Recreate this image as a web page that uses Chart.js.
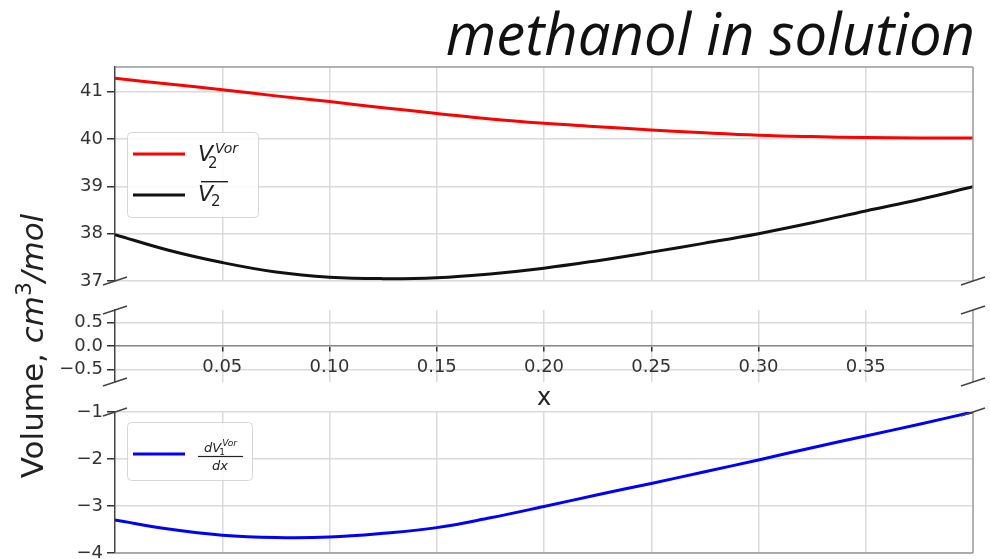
<!DOCTYPE html>
<html>
<head>
<meta charset="utf-8">
<title>methanol in solution</title>
<script src="https://cdn.jsdelivr.net/npm/chart.js@4.4.0/dist/chart.umd.min.js"></script>
<style>
  html, body { margin: 0; padding: 0; background: #fff; }
  #wrap { position: relative; width: 990px; height: 559px; overflow: hidden; }
  #wrap canvas { position: absolute; left: 0; top: 0; }
</style>
</head>
<body>
<div id="wrap">
  <canvas id="topChart" width="990" height="559"></canvas>
  <canvas id="midChart" width="990" height="559"></canvas>
  <canvas id="botChart" width="990" height="559"></canvas>
</div>
<script>
// Values (x = mole fraction)
const xValues = [0, 0.025, 0.05, 0.075, 0.1, 0.125, 0.15, 0.175, 0.2, 0.225, 0.25, 0.275, 0.3, 0.325, 0.35, 0.375, 0.4];
const vorValues = [41.28, 41.16, 41.04, 40.91, 40.79, 40.66, 40.54, 40.42, 40.33, 40.26, 40.19, 40.13, 40.08, 40.05, 40.03, 40.02, 40.02];
const barValues = [37.98, 37.65, 37.39, 37.19, 37.08, 37.05, 37.07, 37.15, 37.27, 37.43, 37.61, 37.80, 38.00, 38.23, 38.48, 38.72, 38.99];
const derivValues = [-3.30, -3.49, -3.62, -3.67, -3.66, -3.58, -3.46, -3.25, -3.01, -2.76, -2.52, -2.27, -2.02, -1.76, -1.51, -1.26, -1.00];

// Axes
const xRange = [0, 0.4];
const xTicks = [0.05, 0.1, 0.15, 0.2, 0.25, 0.3, 0.35];
const topRange = [37, 41.52];
const topTicks = [37, 38, 39, 40, 41];
const midRange = [-0.77, 0.77];
const midTicks = [-0.5, 0, 0.5];
const botRange = [-4, -1];
const botTicks = [-4, -3, -2, -1];

// Texts
const chartTitle = 'methanol in solution';
const xTitle = 'x';

const FONT = 'DejaVu Sans';
const GRID = '#dadada';
const INK = '#333';

Chart.defaults.font.family = FONT;
Chart.defaults.animation = false;

function minus(s) {
    return s.replace('-', '\u2212');
}

function lineDataset(label, values, color) {
    return {
        label: label,
        data: xValues.map((x, i) => ({ x: x, y: values[i] })),
        borderColor: color,
        borderWidth: 3,
        pointRadius: 0,
        tension: 0.4,
        fill: false
    };
}

function xScale(withLabels) {
    const s = {
        type: 'linear',
        min: xRange[0],
        max: xRange[1],
        afterBuildTicks: (scale) => { scale.ticks = xTicks.map(v => ({ value: v })); },
        grid: { color: GRID, lineWidth: 1.5, drawTicks: false },
        border: { display: false },
        ticks: { display: false }
    };
    if (withLabels) {
        s.position = { y: 0 };
        s.grid = { color: GRID, lineWidth: 1.5, drawTicks: true, tickLength: 5, tickColor: INK, tickWidth: 1.5 };
        s.border = { display: true, color: '#8a8a8a', width: 1.5 };
        s.ticks = {
            display: true, color: INK, padding: 6, maxRotation: 0,
            font: { size: 18 },
            callback: (v) => v.toFixed(2)
        };
        s.afterFit = (scale) => { scale.paddingLeft = 0; scale.paddingRight = 0; };
    } else {
        s.afterFit = (scale) => { scale.height = 0; scale.paddingLeft = 0; scale.paddingRight = 0; };
    }
    return s;
}

function yScale(range, ticks, digits) {
    return {
        type: 'linear',
        min: range[0],
        max: range[1],
        afterBuildTicks: (scale) => { scale.ticks = ticks.map(v => ({ value: v })); },
        afterFit: (scale) => { scale.width = 115; scale.paddingTop = 0; scale.paddingBottom = 0; },
        grid: { color: GRID, lineWidth: 1.5, tickColor: INK, tickLength: 8, tickWidth: 1.5 },
        border: { display: true, color: '#444', width: 1.5 },
        ticks: {
            color: INK, padding: 4,
            font: { size: 18 },
            callback: (v) => minus(v.toFixed(digits))
        }
    };
}

// Spines on the other three sides and the diagonal break marks
const panelFrame = {
    id: 'panelFrame',
    afterDraw(chart, args, opts) {
        const ctx = chart.ctx;
        const a = chart.chartArea;
        ctx.save();
        ctx.lineWidth = 1.5;
        ctx.strokeStyle = '#999';
        ctx.beginPath();
        ctx.moveTo(a.right, a.top);
        ctx.lineTo(a.right, a.bottom);
        if (opts.top) { ctx.moveTo(a.left, a.top); ctx.lineTo(a.right, a.top); }
        if (opts.bottom) { ctx.moveTo(a.left, a.bottom); ctx.lineTo(a.right, a.bottom); }
        ctx.stroke();

        const ys = [];
        if (opts.breakTop) ys.push(a.top);
        if (opts.breakBottom) ys.push(a.bottom);
        ctx.strokeStyle = '#444';
        ctx.beginPath();
        ys.forEach(y => [a.left, a.right].forEach(x => {
            ctx.moveTo(x - 12, y + 4);
            ctx.lineTo(x + 12, y - 4);
        }));
        ctx.stroke();
        ctx.restore();
    }
};

// mathtext-like legend labels
function drawVor(ctx, x, y) {
    const base = y + 7;
    ctx.font = `italic 22px ${FONT}`;
    ctx.fillText('V', x, base);
    const w = ctx.measureText('V').width;
    ctx.font = `15px ${FONT}`;
    ctx.fillText('2', x + w - 5, base + 7);
    ctx.font = `italic 14px ${FONT}`;
    ctx.fillText('Vor', x + w + 2, base - 8);
}

function drawBar(ctx, x, y) {
    const base = y + 6;
    ctx.font = `italic 22px ${FONT}`;
    ctx.fillText('V', x, base);
    const w = ctx.measureText('V').width;
    ctx.font = `15px ${FONT}`;
    ctx.fillText('2', x + w - 2, base + 5);
    ctx.fillRect(x + 3, base - 20, 27, 1.4);
}

function drawDeriv(ctx, x, y) {
    const barY = y + 2.5;
    const cx = x + 22;
    ctx.font = `italic 13px ${FONT}`;
    const wd = ctx.measureText('dV').width;
    ctx.font = `italic 9px ${FONT}`;
    const ws = ctx.measureText('Vor').width;
    const nx = cx - (wd + ws) / 2;
    ctx.font = `italic 13px ${FONT}`;
    ctx.fillText('dV', nx, barY - 5);
    ctx.font = `9px ${FONT}`;
    ctx.fillText('1', nx + wd - 2, barY - 2);
    ctx.font = `italic 9px ${FONT}`;
    ctx.fillText('Vor', nx + wd + 1, barY - 11);
    ctx.fillRect(x, barY - 0.6, 45, 1.2);
    ctx.font = `italic 13px ${FONT}`;
    ctx.textAlign = 'center';
    ctx.fillText('dx', cx, barY + 13);
    ctx.textAlign = 'left';
}

const mathLegend = {
    id: 'mathLegend',
    afterDraw(chart, args, opts) {
        if (!opts.box) return;
        const ctx = chart.ctx;
        const a = chart.chartArea;
        const b = opts.box;
        ctx.save();
        ctx.fillStyle = 'rgba(255,255,255,0.85)';
        ctx.strokeStyle = '#d6d6d6';
        ctx.lineWidth = 1;
        ctx.beginPath();
        ctx.roundRect(a.left + b.x + 0.5, a.top + b.y + 0.5, b.w, b.h, 4);
        ctx.fill();
        ctx.stroke();
        opts.items.forEach(it => {
            const ds = chart.data.datasets[it.dataset];
            const y = a.top + it.y;
            ctx.strokeStyle = ds.borderColor;
            ctx.lineWidth = 3;
            ctx.beginPath();
            ctx.moveTo(a.left + 18, y);
            ctx.lineTo(a.left + 70, y);
            ctx.stroke();
            ctx.fillStyle = '#222';
            ctx.textAlign = 'left';
            ctx.textBaseline = 'alphabetic';
            it.draw(ctx, a.left + 83, y);
        });
        ctx.restore();
    }
};

// Figure title, shared y label and x label
const pageText = {
    id: 'pageText',
    afterDraw(chart) {
        const ctx = chart.ctx;
        ctx.save();
        ctx.fillStyle = '#111';
        ctx.textBaseline = 'alphabetic';
        ctx.textAlign = 'right';
        ctx.font = 'italic 58px "Open Sans"';
        ctx.fillText(chartTitle, 975, 55);

        ctx.textAlign = 'center';
        ctx.font = `24px ${FONT}`;
        ctx.fillStyle = '#222';
        ctx.fillText(xTitle, 544, 405);

        const parts = [
            { t: 'Volume, ', f: `31px ${FONT}`, dy: 0 },
            { t: 'cm', f: `italic 31px ${FONT}`, dy: 0 },
            { t: '3', f: `22px ${FONT}`, dy: -12 },
            { t: '/mol', f: `italic 31px ${FONT}`, dy: 0 }
        ];
        let total = 0;
        parts.forEach(p => { ctx.font = p.f; p.w = ctx.measureText(p.t).width; total += p.w; });
        ctx.translate(43, 346);
        ctx.rotate(-Math.PI / 2);
        ctx.textAlign = 'left';
        let px = -total / 2;
        parts.forEach(p => { ctx.font = p.f; ctx.fillText(p.t, px, p.dy); px += p.w; });
        ctx.restore();
    }
};

function makeChart(id, datasets, yOpts, withXLabels, padding, frame, legend, extra) {
    return new Chart(document.getElementById(id), {
        type: 'line',
        data: { datasets: datasets },
        options: {
            responsive: false,
            layout: { padding: padding },
            scales: { x: xScale(withXLabels), y: yOpts },
            plugins: {
                legend: { display: false },
                tooltip: { enabled: false },
                panelFrame: frame,
                mathLegend: legend
            }
        },
        plugins: [panelFrame, mathLegend].concat(extra || [])
    });
}

makeChart('topChart',
    [lineDataset('V2 Vor', vorValues, '#ff0000'), lineDataset('V2 bar', barValues, '#111111')],
    yScale(topRange, topTicks, 0), false,
    { top: 67, bottom: 278, left: 0, right: 17 },
    { top: true, bottom: false, breakTop: false, breakBottom: true },
    { box: { x: 12, y: 65, w: 131, h: 85 },
      items: [{ dataset: 0, y: 87, draw: drawVor }, { dataset: 1, y: 128, draw: drawBar }] });

makeChart('midChart', [],
    yScale(midRange, midTicks, 1), true,
    { top: 310, bottom: 177, left: 0, right: 17 },
    { top: false, bottom: false, breakTop: true, breakBottom: true },
    {}, [pageText]);

makeChart('botChart',
    [lineDataset('dV1 Vor / dx', derivValues, '#0000ff')],
    yScale(botRange, botTicks, 0), false,
    { top: 412, bottom: 6, left: 0, right: 17 },
    { top: false, bottom: true, breakTop: true, breakBottom: false },
    { box: { x: 12, y: 10, w: 125, h: 58 },
      items: [{ dataset: 0, y: 42, draw: drawDeriv }] });
</script>
</body>
</html>
